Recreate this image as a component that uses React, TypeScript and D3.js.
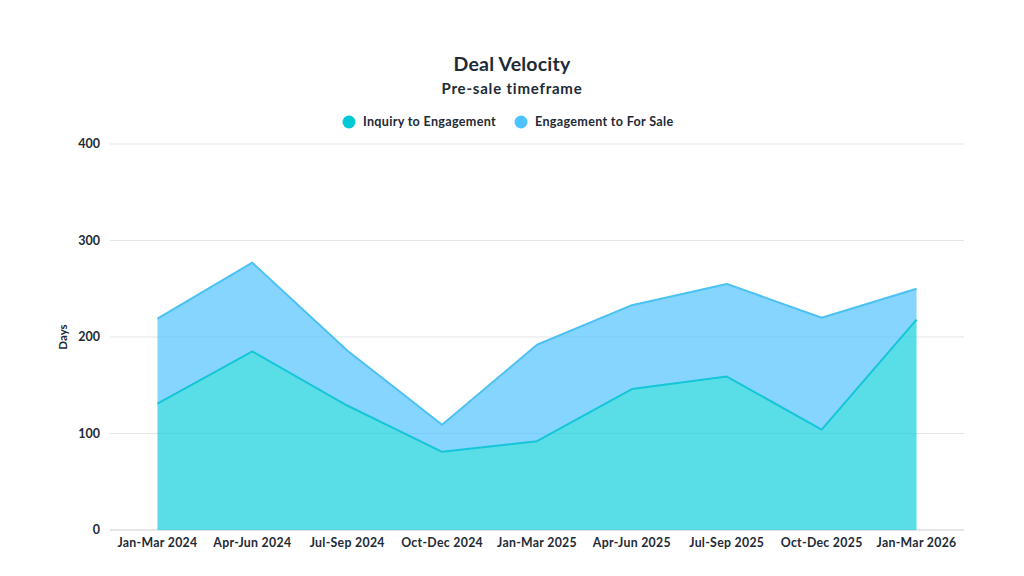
import React, { useRef, useEffect } from "react"
import * as d3 from "d3"

const quarters = [
  "Jan-Mar 2024", "Apr-Jun 2024", "Jul-Sep 2024", "Oct-Dec 2024",
  "Jan-Mar 2025", "Apr-Jun 2025", "Jul-Sep 2025", "Oct-Dec 2025", "Jan-Mar 2026",
]
const inquiryToEngagement = [131, 185, 129, 81, 92, 146, 159, 104, 218]
const engagementToForSale = [88, 92, 57, 28, 100, 87, 96, 116, 32]
const seriesNames = ["Inquiry to Engagement", "Engagement to For Sale"]
const yTicks = [0, 100, 200, 300, 400]

const fills = ["#00CCDB", "#45BFFF"]
const strokes = ["#14C6D8", "#4CC1F4"]
const dots = ["#00C8D7", "#4DC3FF"]

const W = 1024
const H = 576
const margin = { top: 144, right: 60, bottom: 46, left: 110 }
const font = "Lato, 'Open Sans', sans-serif"
const ink = "#1E2A36"

const App: React.FC = () => {
  const svgRef = useRef<SVGSVGElement>(null)

  useEffect(() => {
    const svg = d3.select(svgRef.current)
    svg.selectAll("*").remove()

    const x = d3.scaleBand<string>()
      .domain(quarters)
      .range([margin.left, W - margin.right])

    const y = d3.scaleLinear()
      .domain([0, 400])
      .range([H - margin.bottom, margin.top])

    const cx = (q: string) => (x(q) ?? 0) + x.bandwidth() / 2

    // gridlines
    svg.append("g")
      .selectAll("line")
      .data(yTicks)
      .enter().append("line")
      .attr("x1", margin.left)
      .attr("x2", W - margin.right)
      .attr("y1", d => y(d))
      .attr("y2", d => y(d))
      .attr("stroke", d => d === 0 ? "#C8CCD0" : "#E3E5E8")
      .attr("stroke-width", 1)

    const rows = quarters.map((q, i) => ({
      q,
      a: inquiryToEngagement[i],
      b: engagementToForSale[i],
    }))
    const stacked = d3.stack<any>().keys(["a", "b"])(rows)

    const area = d3.area<any>()
      .x(d => cx(d.data.q))
      .y0(d => y(d[0]))
      .y1(d => y(d[1]))

    const topLine = d3.line<any>()
      .x(d => cx(d.data.q))
      .y(d => y(d[1]))

    stacked.forEach((layer, i) => {
      svg.append("path")
        .datum(layer)
        .attr("d", area)
        .attr("fill", fills[i])
        .attr("fill-opacity", 0.65)
    })
    stacked.forEach((layer, i) => {
      svg.append("path")
        .datum(layer)
        .attr("d", topLine)
        .attr("fill", "none")
        .attr("stroke", strokes[i])
        .attr("stroke-width", 2)
        .attr("stroke-linejoin", "round")
    })

    // y axis labels
    svg.append("g")
      .selectAll("text")
      .data(yTicks)
      .enter().append("text")
      .attr("x", margin.left - 10)
      .attr("y", d => y(d))
      .attr("dy", "0.35em")
      .attr("text-anchor", "end")
      .attr("font-family", font)
      .attr("font-weight", 700)
      .attr("font-size", 12.5)
      .attr("fill", ink)
      .text(d => d)

    svg.append("text")
      .attr("transform", `translate(67,${(y(0) + y(400)) / 2}) rotate(-90)`)
      .attr("text-anchor", "middle")
      .attr("font-family", font)
      .attr("font-weight", 700)
      .attr("font-size", 11.5)
      .attr("fill", ink)
      .text("Days")

    // x axis labels
    svg.append("g")
      .selectAll("text")
      .data(quarters)
      .enter().append("text")
      .attr("x", d => cx(d))
      .attr("y", y(0) + 17)
      .attr("text-anchor", "middle")
      .attr("font-family", font)
      .attr("font-weight", 700)
      .attr("font-size", 12.3)
      .attr("letter-spacing", 0.3)
      .attr("fill", ink)
      .text(d => d)

    // title
    svg.append("text")
      .attr("x", W / 2)
      .attr("y", 71)
      .attr("text-anchor", "middle")
      .attr("font-family", font)
      .attr("font-weight", 700)
      .attr("font-size", 19.5)
      .attr("letter-spacing", 0.2)
      .attr("fill", ink)
      .text("Deal Velocity")

    svg.append("text")
      .attr("x", W / 2)
      .attr("y", 94)
      .attr("text-anchor", "middle")
      .attr("font-family", font)
      .attr("font-weight", 700)
      .attr("font-size", 15)
      .attr("letter-spacing", 0.8)
      .attr("fill", ink)
      .text("Pre-sale timeframe")

    // legend
    const legendX = [343, 515]
    const legend = svg.append("g")
    seriesNames.forEach((name, i) => {
      legend.append("circle")
        .attr("cx", legendX[i] + 6)
        .attr("cy", 122)
        .attr("r", 6.5)
        .attr("fill", dots[i])
      legend.append("text")
        .attr("x", legendX[i] + 20)
        .attr("y", 122)
        .attr("dy", "0.35em")
        .attr("font-family", font)
        .attr("font-weight", 700)
        .attr("font-size", 12.6)
        .attr("letter-spacing", 0.3)
        .attr("fill", ink)
        .text(name)
    })
  }, [])

  return (
    <svg
      ref={svgRef}
      width={W}
      height={H}
      style={{ position: "absolute", left: 0, top: 0, background: "#fff" }}
    />
  )
}

export default App
